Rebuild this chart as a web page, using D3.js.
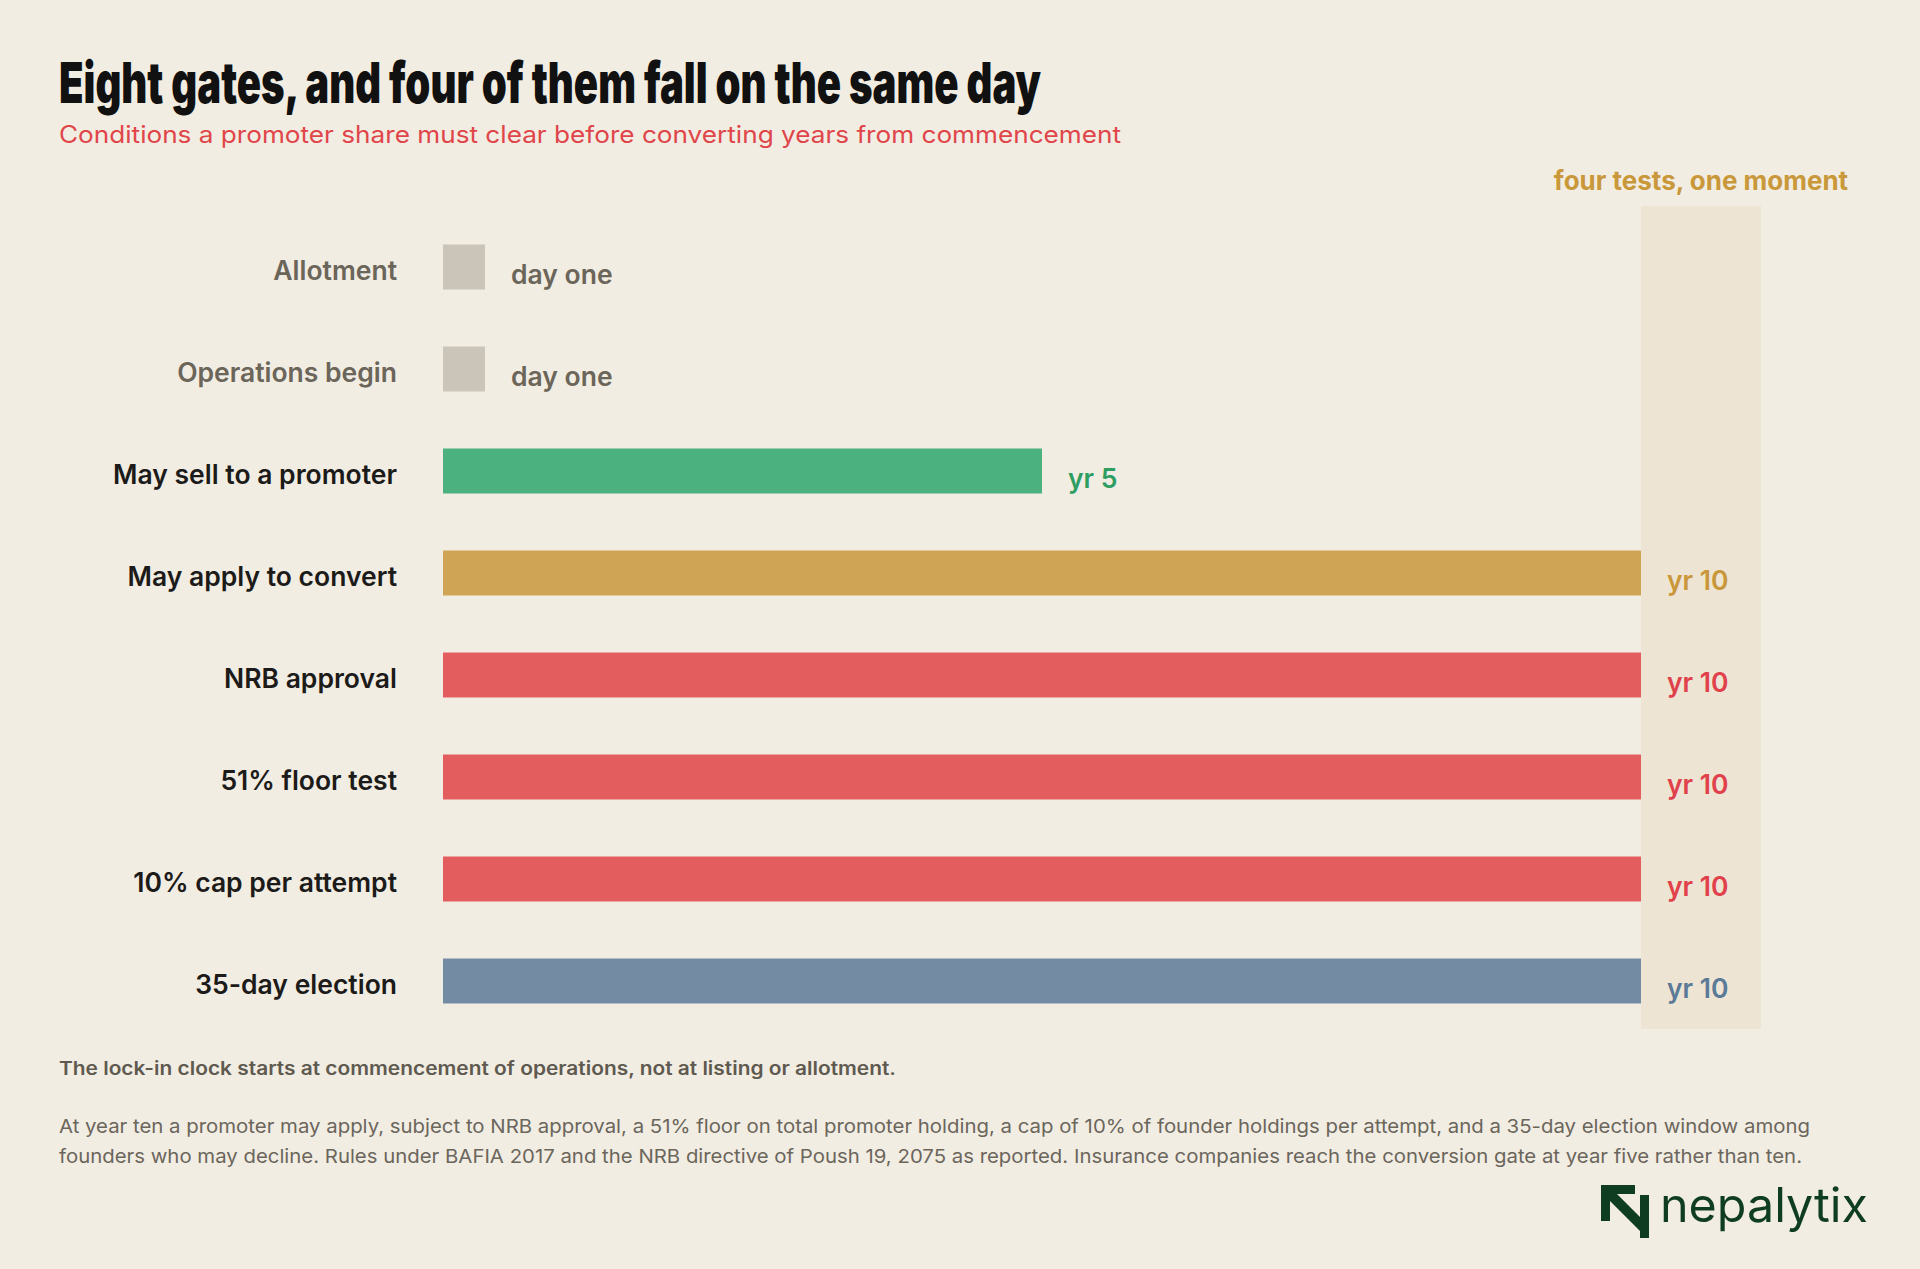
<!DOCTYPE html>
<html>
<head>
<meta charset="utf-8">
<script src="https://cdn.jsdelivr.net/npm/d3@7"></script>
<style>
  html, body { margin: 0; padding: 0; background: #f2ede3; }
  svg { display: block; }
  text { font-family: Inter, "Noto Sans", sans-serif; }
</style>
</head>
<body>
<svg id="chart" width="1920" height="1269"></svg>
<script>
// ---- data ----
const categories = [
  "Allotment", "Operations begin", "May sell to a promoter", "May apply to convert",
  "NRB approval", "51% floor test", "10% cap per attempt", "35-day election"
];
const years = [0, 0, 5, 10, 10, 10, 10, 10];
const valueLabels = ["day one", "day one", "yr 5", "yr 10", "yr 10", "yr 10", "yr 10", "yr 10"];
const groups = ["start", "start", "sell", "apply", "test", "test", "test", "election"];
const highlightLabel = "four tests, one moment";
const title = "Eight gates, and four of them fall on the same day";
const subtitle = "Conditions a promoter share must clear before converting years from commencement";
const note = "The lock-in clock starts at commencement of operations, not at listing or allotment.";
const footLines = [
  "At year ten a promoter may apply, subject to NRB approval, a 51% floor on total promoter holding, a cap of 10% of founder holdings per attempt, and a 35-day election window among",
  "founders who may decline. Rules under BAFIA 2017 and the NRB directive of Poush 19, 2075 as reported. Insurance companies reach the conversion gate at year five rather than ten."
];

const barColor = { start: "#cbc4b8", sell: "#4bb17f", apply: "#cfa555", test: "#e35d5f", election: "#748ba4" };
const valColor = { start: "#6b655a", sell: "#2f9e63", apply: "#c9973a", test: "#e0414a", election: "#5b7a98" };
const labColor = { start: "#6b655a", sell: "#1c1b19", apply: "#1c1b19", test: "#1c1b19", election: "#1c1b19" };

const svg = d3.select("#chart");
const W = 1920, H = 1269;
svg.append("rect").attr("width", W).attr("height", H).attr("fill", "#f2ede3");

// scales
const x = d3.scaleLinear().domain([0, 10]).range([443, 1641]);
const y = d3.scaleBand().domain(categories).range([216, 1032]).paddingInner(0.56).paddingOuter(0.28);
const stub = 42;
const barH = 45;
const rowC = c => y(c) + y.bandwidth() / 2;

// highlight band
svg.append("rect")
  .attr("x", x(10)).attr("y", 206)
  .attr("width", 120).attr("height", 1029 - 206)
  .attr("fill", "#ede4d3");

svg.append("text")
  .attr("x", x(10) + 60).attr("y", 190)
  .attr("text-anchor", "middle")
  .attr("font-size", 26).attr("font-weight", 700)
  .attr("fill", "#c9983a")
  .text(highlightLabel);

// title & subtitle
svg.append("text")
  .attr("x", 59).attr("y", 103)
  .attr("font-size", 57).attr("font-weight", 900)
  .attr("fill", "#111")
  .attr("textLength", 982).attr("lengthAdjust", "spacingAndGlyphs")
  .text(title);

svg.append("text")
  .attr("x", 59).attr("y", 143)
  .attr("font-size", 24).attr("font-weight", 400)
  .attr("fill", "#e0454a")
  .attr("textLength", 1062).attr("lengthAdjust", "spacingAndGlyphs")
  .text(subtitle);

// rows
const data = categories.map((c, i) => ({ c, v: years[i], lab: valueLabels[i], g: groups[i] }));

const rows = svg.append("g").selectAll("g").data(data).join("g");

rows.append("rect")
  .attr("x", x(0))
  .attr("y", d => rowC(d.c) - barH / 2)
  .attr("width", d => d.v === 0 ? stub : x(d.v) - x(0))
  .attr("height", barH)
  .attr("fill", d => barColor[d.g]);

rows.append("text")
  .attr("x", x(0) - 46)
  .attr("y", d => rowC(d.c) + 13)
  .attr("text-anchor", "end")
  .attr("font-size", 26.5).attr("font-weight", 600)
  .attr("fill", d => labColor[d.g])
  .text(d => d.c);

rows.append("text")
  .attr("x", d => (d.v === 0 ? x(0) + stub : x(d.v)) + 26)
  .attr("y", d => rowC(d.c) + 17)
  .attr("font-size", 26.5).attr("font-weight", 600)
  .attr("fill", d => valColor[d.g])
  .text(d => d.lab);

// notes
svg.append("text")
  .attr("x", 59).attr("y", 1075)
  .attr("font-size", 18.5).attr("font-weight", 600)
  .attr("fill", "#5f5a50")
  .attr("textLength", 837).attr("lengthAdjust", "spacingAndGlyphs")
  .text(note);

const footLen = [1751, 1743];
svg.append("g").selectAll("text").data(footLines).join("text")
  .attr("x", 59).attr("y", (d, i) => 1133 + i * 30)
  .attr("font-size", 19).attr("font-weight", 400)
  .attr("fill", "#6b665c")
  .attr("textLength", (d, i) => footLen[i]).attr("lengthAdjust", "spacingAndGlyphs")
  .text(d => d);

// logo
const logo = svg.append("g").attr("transform", "translate(1601,1185)").attr("fill", "#0f3d22");
logo.append("path").attr("d", "M0,0 H34 V9 H9 V36 H0 Z");
logo.append("path").attr("d", "M3,10 L10,3 L47,40 L40,47 Z");
logo.append("path").attr("d", "M39,10 H48 V53 H39 Z");
svg.append("text")
  .attr("x", 1660).attr("y", 1222)
  .attr("font-size", 48).attr("font-weight", 400)
  .attr("fill", "#0f3d22")
  .attr("textLength", 208).attr("lengthAdjust", "spacingAndGlyphs")
  .text("nepalytix");
</script>
</body>
</html>
